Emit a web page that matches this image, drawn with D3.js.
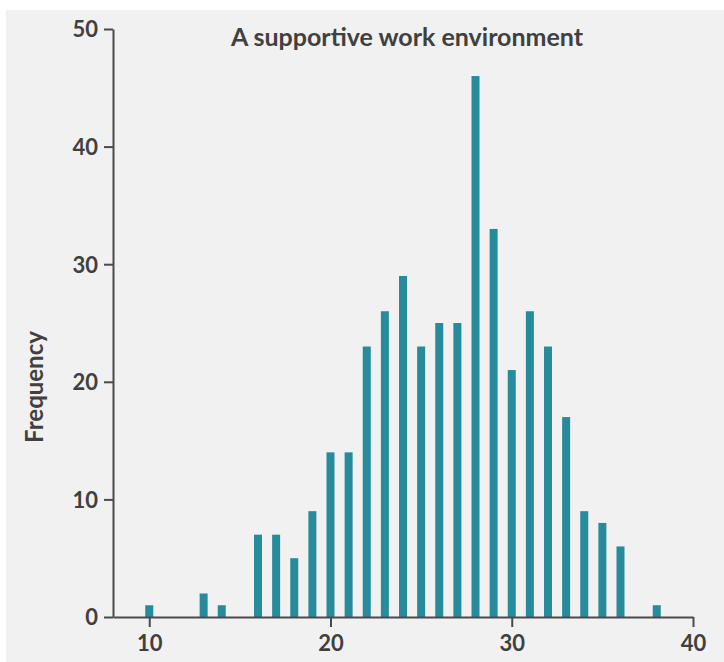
<!DOCTYPE html>
<html>
<head>
<meta charset="utf-8">
<script src="https://cdn.jsdelivr.net/npm/d3@7"></script>
<style>
  html, body { margin: 0; padding: 0; background: #ffffff; }
  svg { display: block; }
  text { font-family: Lato, "Open Sans", sans-serif; font-weight: bold; fill: #404040; }
</style>
</head>
<body>
<svg id="chart" width="724" height="662"></svg>
<script>
const title = "A supportive work environment";
const yLabel = "Frequency";
const scores = [10, 11, 12, 13, 14, 15, 16, 17, 18, 19, 20, 21, 22, 23, 24, 25, 26, 27, 28, 29, 30, 31, 32, 33, 34, 35, 36, 37, 38];
const frequencies = [1, 0, 0, 2, 1, 0, 7, 7, 5, 9, 14, 14, 23, 26, 29, 23, 25, 25, 46, 33, 21, 26, 23, 17, 9, 8, 6, 0, 1];
const xTicks = [10, 20, 30, 40];
const yTicks = [0, 10, 20, 30, 40, 50];

const svg = d3.select("#chart");
svg.append("rect").attr("x", 6).attr("y", 10).attr("width", 718).attr("height", 652).attr("fill", "#f1f1f1");

const x = d3.scaleLinear().domain([8, 40]).range([113, 693]);
const y = d3.scaleLinear().domain([0, 50]).range([617, 29]);
const axisColor = "#4a4a4a";

// bars
const data = scores.map((s, i) => ({ s, f: frequencies[i] })).filter(d => d.f > 0);
svg.append("g").selectAll("rect").data(data).join("rect")
  .attr("x", d => x(d.s) - 4)
  .attr("width", 8)
  .attr("y", d => y(d.f))
  .attr("height", d => y(0) - y(d.f))
  .attr("fill", "#268c9c");

// y axis
const yAxis = svg.append("g").attr("transform", "translate(113,0)")
  .call(d3.axisLeft(y).tickValues(yTicks).tickSize(9).tickPadding(6).tickSizeOuter(0));
yAxis.select(".domain").attr("stroke", axisColor).attr("stroke-width", 2);
yAxis.selectAll(".tick line").attr("stroke", axisColor).attr("stroke-width", 2);
yAxis.selectAll(".tick text").attr("font-size", 22).attr("font-family", "Lato").attr("font-weight", "bold").attr("fill", "#404040").attr("dy", "0.36em");

// x axis
const xAxis = svg.append("g").attr("transform", "translate(0,617)")
  .call(d3.axisBottom(x).tickValues(xTicks).tickSize(10).tickPadding(8).tickSizeOuter(0));
xAxis.select(".domain").attr("stroke", axisColor).attr("stroke-width", 2);
xAxis.selectAll(".tick line").attr("stroke", axisColor).attr("stroke-width", 2);
xAxis.selectAll(".tick text").attr("font-size", 22).attr("font-family", "Lato").attr("font-weight", "bold").attr("fill", "#404040");

// title
svg.append("text").attr("x", 407).attr("y", 46).attr("text-anchor", "middle")
  .attr("font-size", 25).text(title);

// y label
svg.append("text").attr("transform", "translate(43,387) rotate(-90)").attr("text-anchor", "middle")
  .attr("font-size", 24).text(yLabel);
</script>
</body>
</html>
